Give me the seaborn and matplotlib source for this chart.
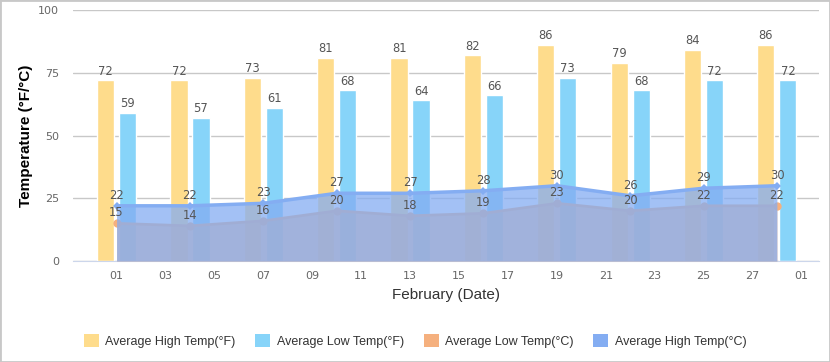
import matplotlib
matplotlib.use('Agg')
import matplotlib.pyplot as plt
import seaborn as sns
import pandas as pd
from matplotlib.patches import Patch, Rectangle

# Dados de temperatura - fevereiro
dias = [1, 4, 7, 10, 13, 16, 19, 22, 25, 28]
alta_f = [72, 72, 73, 81, 81, 82, 86, 79, 84, 86]
baixa_f = [59, 57, 61, 68, 64, 66, 73, 68, 72, 72]
baixa_c = [15, 14, 16, 20, 18, 19, 23, 20, 22, 22]
alta_c = [22, 22, 23, 27, 27, 28, 30, 26, 29, 30]

ticks_x = [1, 3, 5, 7, 9, 11, 13, 15, 17, 19, 21, 23, 25, 27, 29]
rotulos_x = ['01', '03', '05', '07', '09', '11', '13', '15', '17', '19', '21', '23', '25', '27', '01']
ticks_y = [0, 25, 50, 75, 100]

nomes = ['Average High Temp(°F)', 'Average Low Temp(°F)', 'Average Low Temp(°C)', 'Average High Temp(°C)']
cores = ['#fedc8c', '#87d4f9', '#f5b07e', '#84adf2']

sns.set_style('white')
plt.rcParams['font.family'] = ['Liberation Sans', 'DejaVu Sans']
fonte_num = 'DejaVu Sans'

df_barras = pd.DataFrame({
    'dia': dias + dias,
    'temp': alta_f + baixa_f,
    'serie': [nomes[0]] * len(dias) + [nomes[1]] * len(dias),
})

fig = plt.figure(figsize=(8.3, 3.62), dpi=100)
ax = fig.add_axes([0.088, 0.279, 0.899, 0.693])

sns.barplot(data=df_barras, x='dia', y='temp', hue='serie', native_scale=True,
            palette={nomes[0]: cores[0], nomes[1]: cores[1]}, saturation=1,
            width=0.6, gap=0.22, dodge=True, legend=False, ax=ax, zorder=2)
for cont in ax.containers:
    ax.bar_label(cont, padding=2, fontsize=8.3, color='#555555', family=fonte_num)

# areas em Celsius
ax.fill_between(dias, baixa_c, color=cores[2], alpha=0.75, lw=0, zorder=3)
sns.lineplot(x=dias, y=baixa_c, color=cores[2], lw=2, marker='o', markersize=6,
             markeredgewidth=0, ax=ax, zorder=3)
ax.fill_between(dias, alta_c, color=cores[3], alpha=0.75, lw=0, zorder=4)
sns.lineplot(x=dias, y=alta_c, color=cores[3], lw=2.5, marker='D', markersize=4,
             markeredgewidth=0, ax=ax, zorder=5)

for d, v in zip(dias, baixa_c):
    ax.annotate(str(v), (d, v), xytext=(0, 3), textcoords='offset points',
                ha='center', va='bottom', fontsize=8.3, color='#555555', family=fonte_num, zorder=6)
for d, v in zip(dias, alta_c):
    ax.annotate(str(v), (d, v), xytext=(0, 3), textcoords='offset points',
                ha='center', va='bottom', fontsize=8.3, color='#555555', family=fonte_num, zorder=6)

ax.set_xlim(-0.78, 29.73)
ax.set_ylim(0, 100)
ax.set_xticks(ticks_x)
ax.set_xticklabels(rotulos_x, family=fonte_num)
ax.set_yticks(ticks_y)
ax.set_yticklabels([str(t) for t in ticks_y], family=fonte_num)
ax.tick_params(axis='x', length=6, color='#ccd6eb', labelcolor='#666666', labelsize=8, pad=1)
ax.tick_params(axis='y', length=0, labelcolor='#666666', labelsize=8, pad=10)
ax.grid(axis='y', color='#c8c8c8', lw=1, zorder=0)
ax.set_axisbelow(True)
for lado in ['top', 'right', 'left']:
    ax.spines[lado].set_visible(False)
ax.spines['bottom'].set_color('#ccd6eb')
ax.set_xlabel('February (Date)', fontsize=11, color='#333333', labelpad=5)
ax.set_ylabel('Temperature (°F/°C)', fontsize=11, fontweight='bold', color='#000000', labelpad=4)

handles = [Patch(facecolor=c, edgecolor='none') for c in cores]
fig.legend(handles, nomes, loc='center', bbox_to_anchor=(0.5, 0.058), ncol=4, frameon=False,
           fontsize=9, handlelength=1.2, handleheight=1.2, handletextpad=0.5,
           columnspacing=1.6, labelcolor='#333333')

fig.patches.append(Rectangle((0, 0), 1, 1, transform=fig.transFigure, fill=False,
                             edgecolor='#c8c8c8', lw=2))

fig.savefig('out.png', dpi=100)
